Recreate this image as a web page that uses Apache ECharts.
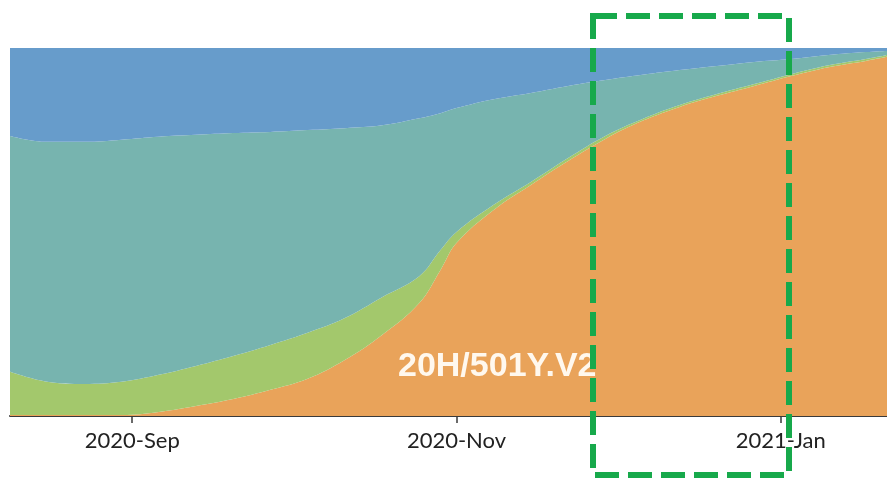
<!DOCTYPE html>
<html>
<head>
<meta charset="utf-8">
<script src="https://cdn.jsdelivr.net/npm/echarts@6/dist/echarts.min.js"></script>
<style>
html,body{margin:0;padding:0;background:#fff;}
#chart{width:887px;height:482px;}
</style>
</head>
<body>
<div id="chart"></div>
<script>
// Dates of samples
var dates = ['2020-08-09','2020-08-16','2020-08-23','2020-08-30','2020-09-06','2020-09-13','2020-09-20','2020-09-27',
  '2020-10-04','2020-10-11','2020-10-18','2020-10-25','2020-10-29','2020-11-01','2020-11-08','2020-11-15','2020-11-22',
  '2020-11-29','2020-12-06','2020-12-13','2020-12-20','2020-12-27','2021-01-03','2021-01-10','2021-01-17','2021-01-21'];
// Share (%) of each clade, bottom to top
var clade501Y = [0.3,0.3,0.3,0.3,1.1,2.7,4.6,7.1,10.1,15.2,22.0,30.7,39.7,47.0,56.0,62.8,69.3,75.3,80.2,84.0,87.0,89.7,92.4,94.8,96.5,97.6];
var cladeGreen = [11.7,9.0,8.4,9.0,10.1,10.9,11.7,12.2,12.5,11.4,10.3,7.3,5.4,3.0,1.4,0.8,0.8,0.8,0.5,0.5,0.5,0.5,0.5,0.5,0.5,0.5];
var cladeTeal = [64.1,65.2,65.8,65.8,64.7,62.8,60.6,57.9,55.1,51.6,46.7,42.9,37.2,33.7,28.7,24.2,19.6,15.2,12.0,9.5,7.6,6.0,4.1,2.8,1.9,1.1];
var cladeBlue = [23.9,25.5,25.5,24.9,24.1,23.6,23.1,22.8,22.3,21.8,21.0,19.1,17.7,16.3,13.9,12.2,10.3,8.7,7.3,6.0,4.9,3.8,3.0,1.9,1.1,0.8];
// Axis ticks
var tickDates = ['2020-09-01','2020-11-01','2021-01-01'];
var tickLabels = ['2020-Sep','2020-Nov','2021-Jan'];
var xMin = '2020-08-09', xMax = '2021-01-21';
var annotation = '20H/501Y.V2';

function ts(s){ var p=s.split('-'); return Date.UTC(+p[0], +p[1]-1, +p[2]); }
function pairs(vals){ return dates.map(function(d,i){ return [ts(d), vals[i]]; }); }
var tickTs = tickDates.map(ts);

var chart = echarts.init(document.getElementById('chart'), null, {renderer:'canvas'});
function mk(name, vals, color){
  return {
    name: name, type:'line', stack:'all', smooth:0.4, showSymbol:false, symbol:'none',
    xAxisIndex:0,
    data: pairs(vals),
    lineStyle: {width:0},
    areaStyle: {color: color, opacity:1},
    itemStyle: {color: color},
    silent:true
  };
}
chart.setOption({
  animation:false,
  backgroundColor:'#ffffff',
  grid:{left:10, right:0, top:48, bottom:66},
  xAxis:[{
    type:'time', min: ts(xMin), max: ts(xMax), show:false
  },{
    type:'value', min: ts(xMin), max: ts(xMax), position:'bottom',
    axisLine:{show:true, onZero:false, lineStyle:{color:'#3a3a3a', width:2}},
    axisTick:{show:true, customValues: tickTs, length:7, lineStyle:{color:'#3a3a3a', width:1.5}},
    axisLabel:{show:true, customValues: tickTs, margin:14, color:'#222', fontFamily:'Lato', fontSize:22,
      formatter:function(v){ var i = tickTs.indexOf(v); return i>=0 ? tickLabels[i] : ''; }},
    splitLine:{show:false}
  }],
  yAxis:{type:'value', min:0, max:100, show:false, splitLine:{show:false}},
  series:[
    mk('20H/501Y.V2', clade501Y, '#E9A35A'),
    mk('other-green', cladeGreen, '#A3C86C'),
    mk('other-teal', cladeTeal, '#77B4AF'),
    mk('other-blue', cladeBlue, '#679CCB')
  ],
  graphic:[
    {type:'rect', z:100, shape:{x:593, y:16, width:196, height:459},
     style:{fill:'none', stroke:'#17A94B', lineWidth:6, lineDash:[24,9]}},
    {type:'text', z:90, left:398, top:350,
     style:{text: annotation, fill:'#FFF8EE', font:'bold 34px "Liberation Sans", Arial, sans-serif'}}
  ]
});
</script>
</body>
</html>
